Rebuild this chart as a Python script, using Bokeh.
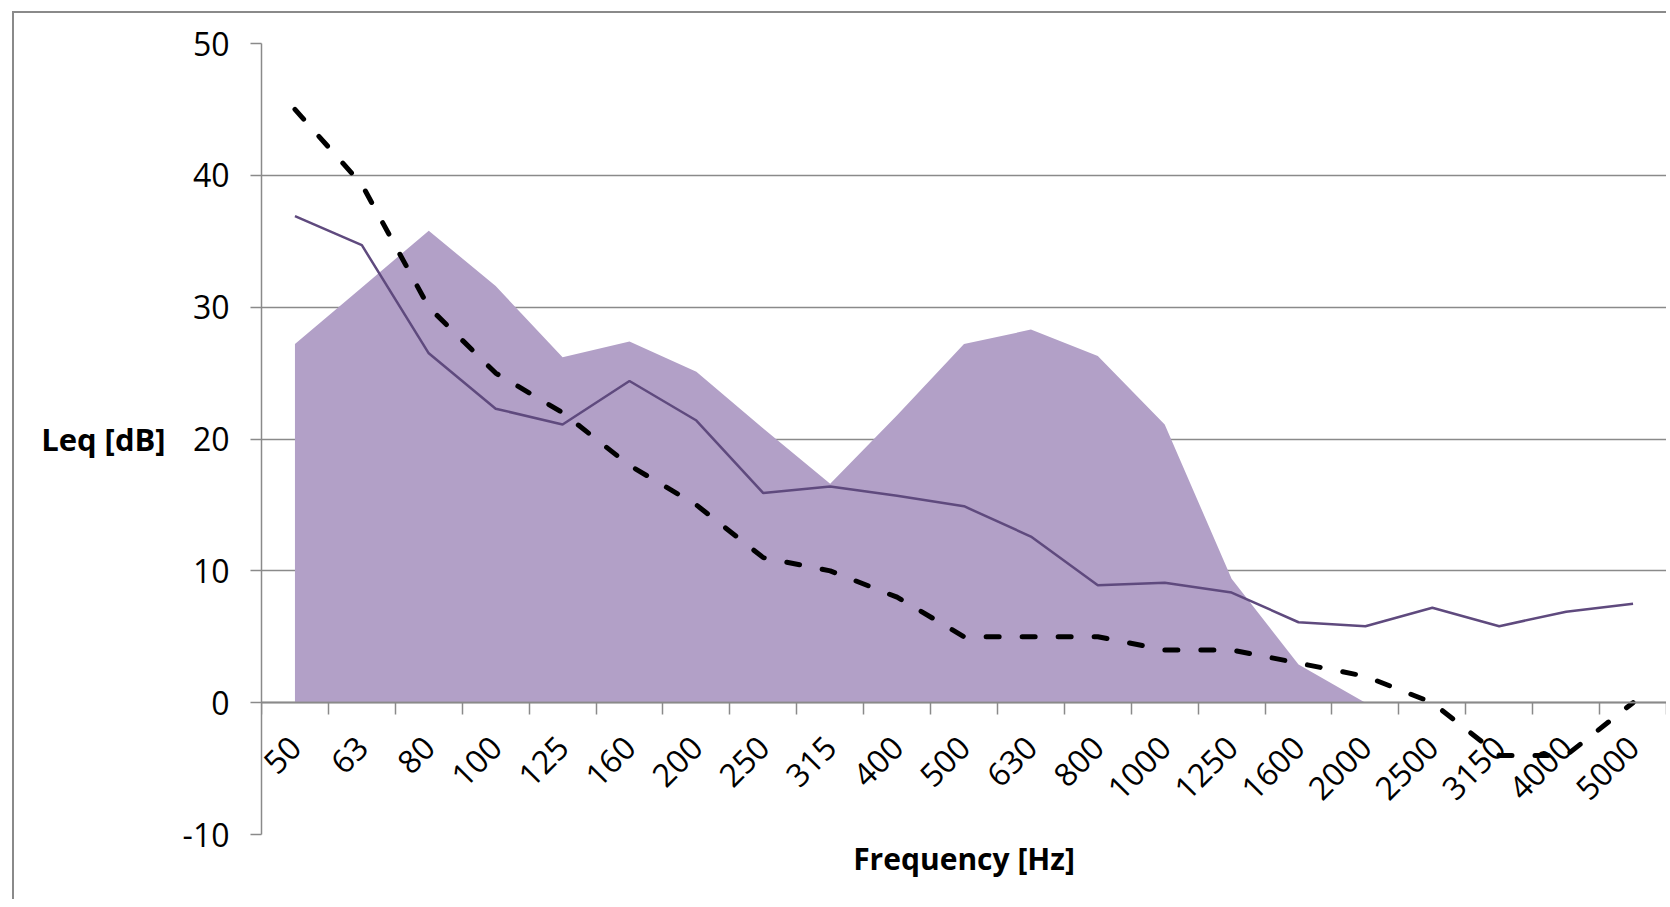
import math
from bokeh.plotting import figure
from bokeh.models import (FactorRange, Range1d, LinearAxis, FixedTicker, Title,
                          CustomLabelingPolicy)
from bokeh.embed import file_html
from bokeh.resources import INLINE

frequencies = ["50", "63", "80", "100", "125", "160", "200", "250", "315", "400", "500",
               "630", "800", "1000", "1250", "1600", "2000", "2500", "3150", "4000", "5000"]
area_levels = [27.2, 31.5, 35.8, 31.6, 26.2, 27.4, 25.1, 20.8, 16.6, 21.8, 27.2,
               28.3, 26.3, 21.1, 9.4, 2.9, 0.0, 0.0, 0.0, 0.0, 0.0]
measured_levels = [36.9, 34.7, 26.5, 22.3, 21.1, 24.4, 21.4, 15.9, 16.4, 15.7, 14.9,
                   12.6, 8.9, 9.1, 8.35, 6.1, 5.8, 7.2, 5.8, 6.9, 7.5]
limit_levels = [45, 39.3, 30, 25, 22, 18, 15, 11, 10, 8, 5,
                5, 5, 4, 4, 3, 2, 0, -4, -4, 0]
y_ticks = [-10, 0, 10, 20, 30, 40, 50]

GRID = "#8a8a8a"
FONT = "Open Sans"

p = figure(x_range=FactorRange(*frequencies, range_padding=0), y_range=Range1d(-10, 50),
           width=1666, height=899, output_backend="svg", toolbar_location=None,
           min_border_left=261, min_border_right=0, min_border_top=43, min_border_bottom=65)
p.outline_line_color = None
p.background_fill_color = "white"
p.border_fill_color = None
p.styles = {
    "background": ("linear-gradient(#8a8a8a, #8a8a8a) 12px 11px / 2px 2000px no-repeat, "
                   "linear-gradient(#8a8a8a, #8a8a8a) 12px 11px / 3000px 2px no-repeat, white"),
}
p.xgrid.visible = False
p.ygrid.ticker = FixedTicker(ticks=y_ticks)
p.ygrid.grid_line_color = GRID
p.ygrid.grid_line_width = 1.5

p.varea(x=frequencies, y1=[0] * len(frequencies), y2=area_levels, fill_color="#b2a0c7")
p.line(x=frequencies, y=measured_levels, line_color="#5f4a7e", line_width=2.5)
p.line(x=frequencies, y=limit_levels, line_color="black", line_width=5,
       line_dash="13 23", line_cap="round", line_join="round")

# y axis
ya = p.yaxis[0]
ya.ticker = FixedTicker(ticks=y_ticks)
ya.major_label_overrides = {-10: "-10"}
ya.axis_line_color = GRID
ya.axis_line_width = 1.5
ya.major_tick_line_color = GRID
ya.major_tick_line_width = 1.5
ya.major_tick_out = 11
ya.major_tick_in = 0
ya.minor_tick_line_color = None
ya.major_label_standoff = 21
ya.major_label_text_font = FONT
ya.major_label_text_font_size = "32px"
ya.major_label_text_color = "black"
ya.axis_label = "Leq [dB]"
ya.axis_label_orientation = "horizontal"
ya.axis_label_text_font = FONT
ya.axis_label_text_font_style = "bold"
ya.axis_label_text_font_size = "31px"
ya.axis_label_text_color = "black"
ya.axis_label_standoff = 14

# categorical x axis at y = 0
xa = p.xaxis[0]
xa.fixed_location = 0
xa.axis_line_color = GRID
xa.axis_line_width = 1.5
xa.major_tick_line_color = None
xa.major_tick_out = 0
xa.major_tick_in = 0
xa.minor_tick_line_color = None
xa.major_label_orientation = math.pi / 4
xa.major_label_standoff = 39
xa.major_label_text_font = FONT
xa.major_label_text_font_size = "32px"
xa.major_label_text_color = "black"

# tick marks between categories (synthetic coordinates of the factor range)
ta = LinearAxis(ticker=FixedTicker(ticks=list(range(len(frequencies) + 1))), fixed_location=0)
ta.axis_line_color = GRID
ta.axis_line_width = 1.5
ta.major_tick_line_color = GRID
ta.major_tick_line_width = 1.5
ta.major_tick_out = 12
ta.major_tick_in = 0
ta.minor_tick_line_color = None
ta.major_label_policy = CustomLabelingPolicy(
    code="for (const i of Array.from(indices)) { indices.unset(i) }; return indices")
p.add_layout(ta, "below")

p.add_layout(Title(text="Frequency [Hz]", align="center", text_font=FONT,
                   text_font_size="30px", text_font_style="bold", text_color="black",
                   standoff=2), "below")

open("out.html", "w").write(file_html(p, INLINE))
